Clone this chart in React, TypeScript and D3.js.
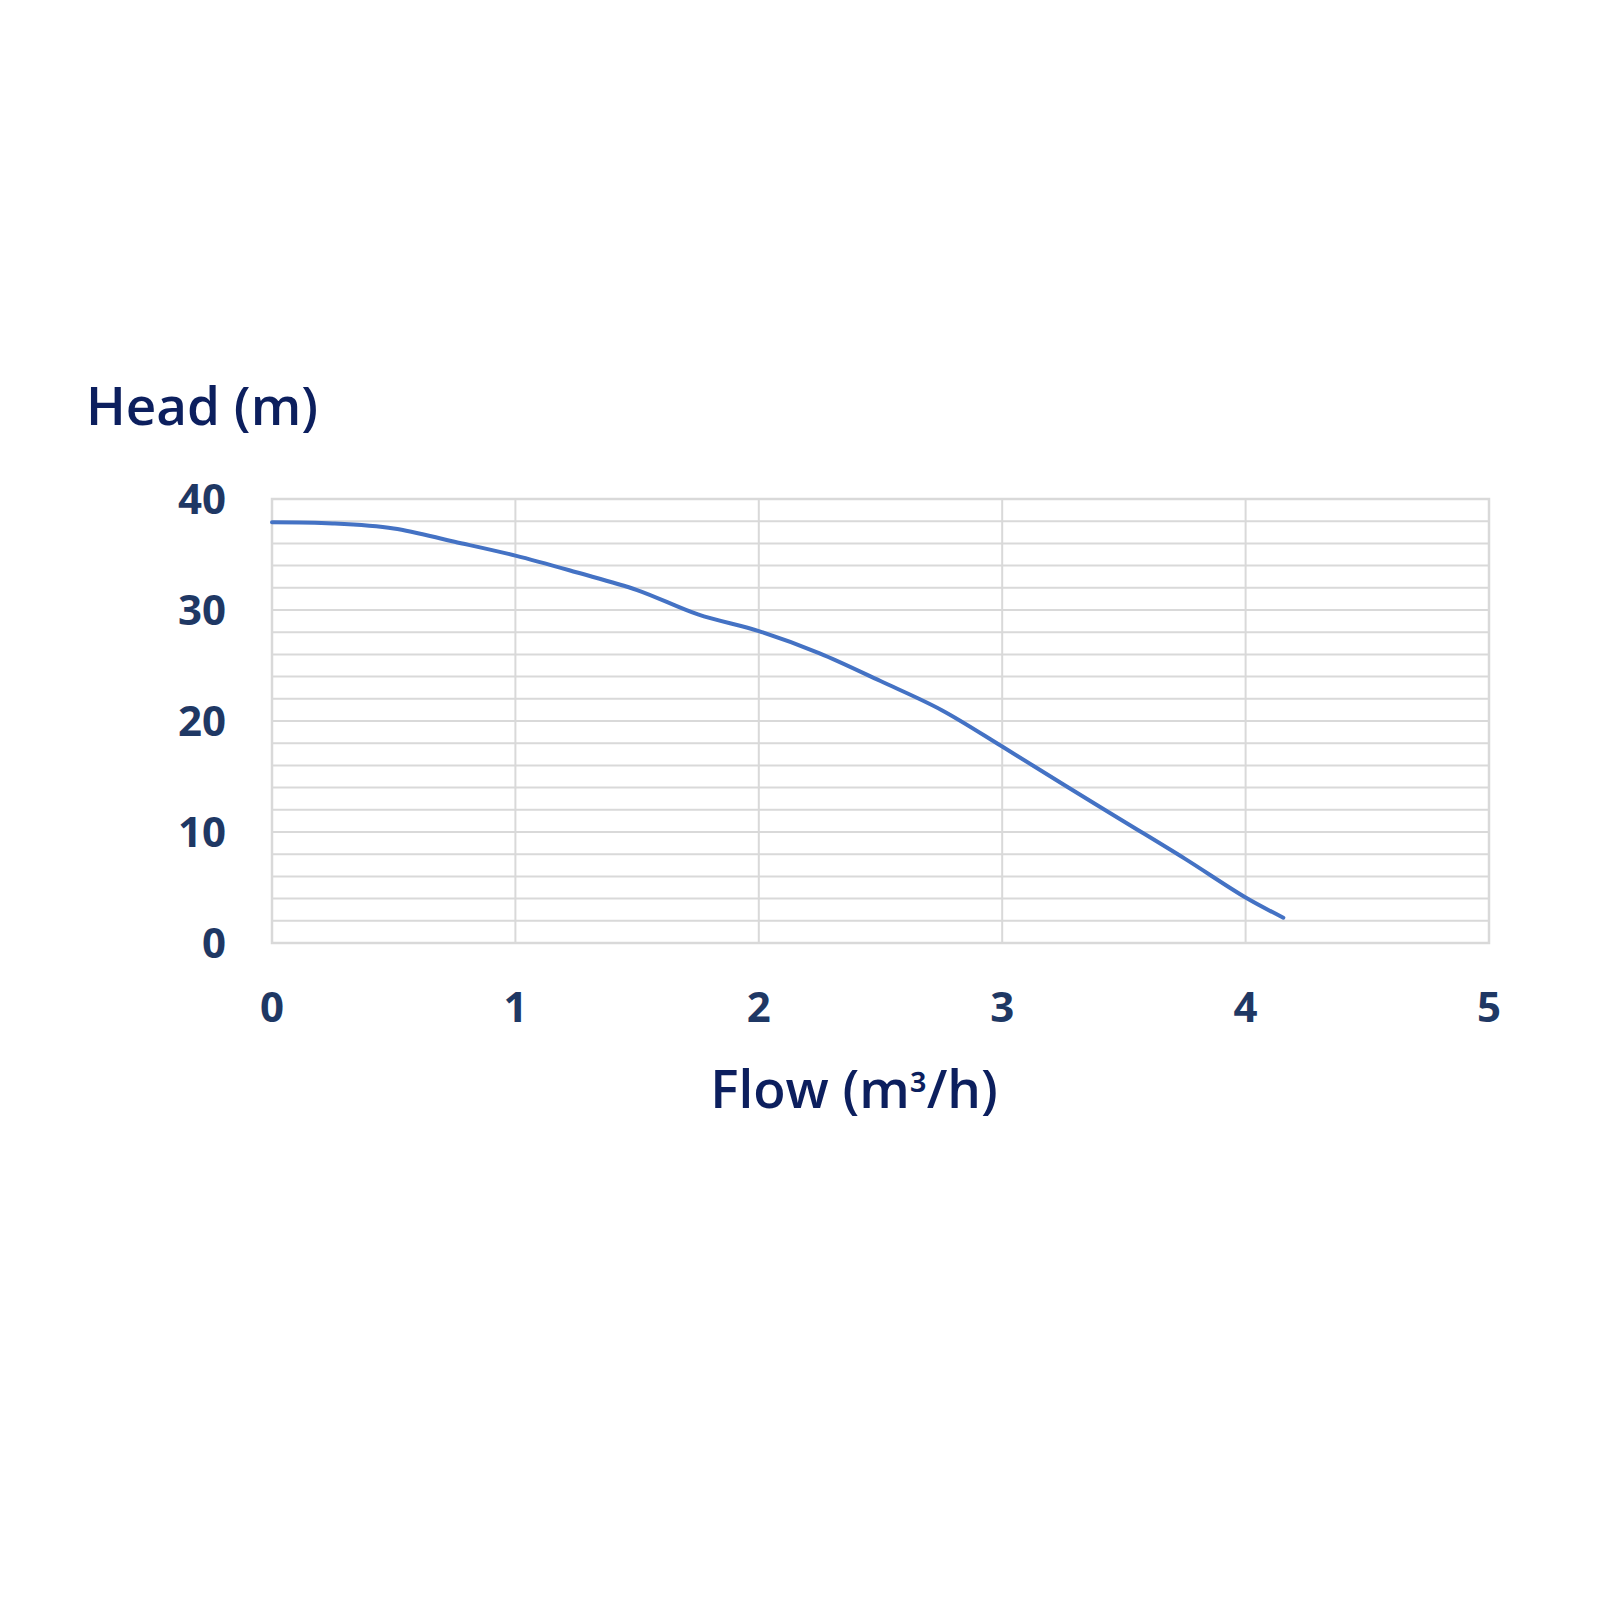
import React from "react";
import * as d3 from "d3";

const flow = [0, 0.25, 0.5, 0.75, 1.0, 1.25, 1.5, 1.75, 2.0, 2.25, 2.5, 2.75, 3.0, 3.25, 3.5, 3.75, 4.0, 4.155];
const head = [37.9, 37.8, 37.35, 36.15, 34.9, 33.4, 31.8, 29.6, 28.1, 26.1, 23.6, 21.0, 17.7, 14.3, 10.95, 7.6, 4.1, 2.28];
const xTicks = [0, 1, 2, 3, 4, 5];
const yTicks = [0, 10, 20, 30, 40];
const yGrid = d3.range(0, 41, 2);

const W = 1600;
const H = 1600;
const left = 272;
const right = 1489;
const top = 499;
const bottom = 943;

export default function App() {
  const x = d3.scaleLinear().domain([0, 5]).range([left, right]);
  const y = d3.scaleLinear().domain([0, 40]).range([bottom, top]);
  const pts = flow.map((f, i) => [f, head[i]] as [number, number]);
  const line = d3
    .line<[number, number]>()
    .x((d) => x(d[0]))
    .y((d) => y(d[1]))
    .curve(d3.curveCatmullRom.alpha(0.5));
  const tickFont = 42;
  const tickColor = "#1f3864";
  const titleColor = "#0c1f5e";
  const font = "'Open Sans', 'Noto Sans', sans-serif";
  return (
    <svg
      width={W}
      height={H}
      style={{ position: "absolute", left: 0, top: 0, background: "#fff" }}
    >
      <rect x={0} y={0} width={W} height={H} fill="#fff" />
      {yGrid.map((v) => (
        <line
          key={"h" + v}
          x1={left}
          x2={right}
          y1={y(v)}
          y2={y(v)}
          stroke="#d9d9d9"
          strokeWidth={2}
        />
      ))}
      {xTicks.map((v) => (
        <line
          key={"v" + v}
          x1={x(v)}
          x2={x(v)}
          y1={top}
          y2={bottom}
          stroke="#d9d9d9"
          strokeWidth={2}
        />
      ))}
      <rect
        x={left}
        y={top}
        width={right - left}
        height={bottom - top}
        fill="none"
        stroke="#d9d9d9"
        strokeWidth={2.5}
      />
      <path
        d={line(pts) || ""}
        fill="none"
        stroke="#4472c4"
        strokeWidth={4}
        strokeLinecap="round"
        strokeLinejoin="round"
      />
      {yTicks.map((v) => (
        <text
          key={"yt" + v}
          x={226}
          y={y(v) + tickFont * 0.36}
          textAnchor="end"
          fontFamily={font}
          fontWeight={700}
          fontSize={tickFont}
          fill={tickColor}
        >
          {v}
        </text>
      ))}
      {xTicks.map((v) => (
        <text
          key={"xt" + v}
          x={x(v)}
          y={bottom + 79}
          textAnchor="middle"
          fontFamily={font}
          fontWeight={700}
          fontSize={tickFont}
          fill={tickColor}
        >
          {v}
        </text>
      ))}
      <text
        x={86}
        y={425}
        fontFamily={font}
        fontWeight={600}
        fontSize={53}
        fill={titleColor}
      >
        Head (m)
      </text>
      <text
        x={854}
        y={1108}
        textAnchor="middle"
        fontFamily={font}
        fontWeight={600}
        fontSize={53}
        fill={titleColor}
      >
        Flow (m
        <tspan fontSize={46} dy={3}>
          ³
        </tspan>
        <tspan dy={-3}>/h)</tspan>
      </text>
    </svg>
  );
}
